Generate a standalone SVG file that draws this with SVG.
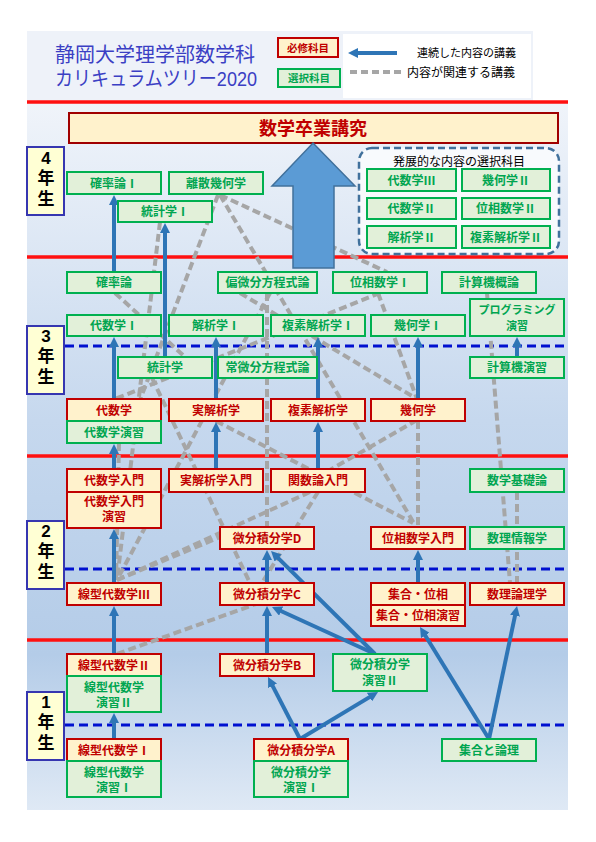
<svg xmlns="http://www.w3.org/2000/svg" width="596" height="842" viewBox="0 0 596 842">
<defs>
<linearGradient id="bg" x1="0" y1="0" x2="0" y2="1">
<stop offset="0" stop-color="#f0f4fa"/>
<stop offset="0.45" stop-color="#c6d8ee"/>
<stop offset="0.78" stop-color="#b4cce8"/>
<stop offset="1" stop-color="#dfe9f5"/>
</linearGradient>
<marker id="ah" viewBox="0 0 10 10" markerWidth="10" markerHeight="10" markerUnits="userSpaceOnUse" refX="2" refY="5" orient="auto">
<path d="M0,0 L10,5 L0,10 z" fill="#2e75b6"/>
</marker>
</defs>
<style>
text{font-family:'Noto Sans CJK JP','Noto Sans',sans-serif;font-weight:bold;font-size:12px;text-anchor:middle}
.ml{font-family:'Liberation Sans','Noto Sans CJK JP',sans-serif}
.ttl{font-family:'Liberation Sans','Noto Sans CJK JP',sans-serif;font-weight:normal;font-size:20px;text-anchor:start;fill:#3b3fc4}
.g rect{fill:#e2f0d9;stroke:#00b050;stroke-width:2}
.g text{fill:#00a550}
.r rect{fill:#fff2cc;stroke:#c00000;stroke-width:2}
.r text{fill:#c00000}
.yr rect{fill:#ffffd4;stroke:#3636b0;stroke-width:2}
.yr text{fill:#000;font-size:17px;font-family:'Liberation Sans','Noto Sans CJK JP',sans-serif}
.sep{stroke:#ff1010;stroke-width:3.5}
.half{stroke:#0010d0;stroke-width:3;stroke-dasharray:9 5}
.rel line{stroke:#a6a6a6;stroke-width:4;stroke-dasharray:8 4;fill:none}
.seq line{stroke:#2e75b6;stroke-width:4;marker-end:url(#ah)}
.small{font-size:11px}
</style>

<!-- background -->
<rect x="27" y="31" width="506" height="71" fill="#eef2f9"/>
<rect x="343" y="34" width="188" height="64" fill="#ffffff"/>
<rect x="27" y="102" width="541" height="708" fill="url(#bg)"/>

<!-- title -->
<g id="title">
<text x="55" y="62" class="ttl">静岡大学理学部数学科</text>
<text x="55" y="86" class="ttl" textLength="202" lengthAdjust="spacingAndGlyphs">カリキュラムツリー2020</text>
</g>

<!-- legend -->
<g id="legend">
<g class="r"><rect x="278" y="38" width="60" height="19"/><text x="308" y="51.5" style="font-size:10.5px">必修科目</text></g>
<g class="g"><rect x="278" y="69" width="62" height="18"/><text x="309" y="82" style="font-size:10.5px">選択科目</text></g>
<g class="seq"><line x1="397" y1="53" x2="356" y2="53"/></g>
<text x="417" y="57" style="font-weight:normal;font-size:11px;text-anchor:start;fill:#000">連続した内容の講義</text>
<g class="rel"><line x1="350" y1="72" x2="404" y2="72" style="stroke-dasharray:7 4"/></g>
<text x="407" y="76.5" style="font-weight:normal;font-size:12px;text-anchor:start;fill:#000">内容が関連する講義</text>
</g>

<!-- separators -->
<g id="separators">
<line class="sep" x1="27" y1="102" x2="568" y2="102"/>
<line class="sep" x1="27" y1="257" x2="568" y2="257"/>
<line class="sep" x1="27" y1="456" x2="568" y2="456"/>
<line class="sep" x1="27" y1="640" x2="568" y2="640"/>
<line class="half" x1="65" y1="346" x2="568" y2="346"/>
<line class="half" x1="65" y1="569" x2="568" y2="569"/>
<line class="half" x1="65" y1="725" x2="568" y2="725"/>
</g>

<!-- year labels -->
<g id="year4" class="yr"><rect x="27" y="147" width="37" height="68"/><text x="46" y="164"><tspan x="46">4</tspan><tspan x="46" dy="20">年</tspan><tspan x="46" dy="20.5">生</tspan></text></g>
<g id="year3" class="yr"><rect x="27" y="326" width="37" height="68"/><text x="46" y="342"><tspan x="46">3</tspan><tspan x="46" dy="20">年</tspan><tspan x="46" dy="21">生</tspan></text></g>
<g id="year2" class="yr"><rect x="27" y="521" width="37" height="68"/><text x="46" y="537"><tspan x="46">2</tspan><tspan x="46" dy="20">年</tspan><tspan x="46" dy="21">生</tspan></text></g>
<g id="year1" class="yr"><rect x="27" y="692" width="37" height="68"/><text x="46" y="708"><tspan x="46">1</tspan><tspan x="46" dy="20">年</tspan><tspan x="46" dy="21">生</tspan></text></g>

<!-- connectors -->
<g id="connectors">
<g class="rel">
<line x1="218" y1="195" x2="140" y2="400"/>
<line x1="220" y1="195" x2="415" y2="525"/>
<line x1="220" y1="195" x2="387" y2="272"/>
<line x1="160" y1="222" x2="117" y2="580"/>
<line x1="115" y1="293" x2="185" y2="357"/>
<line x1="267" y1="293" x2="267" y2="527"/>
<line x1="378" y1="293" x2="417" y2="399"/>
<line x1="380" y1="293" x2="115" y2="399"/>
<line x1="270" y1="293" x2="117" y2="580"/>
<line x1="240" y1="293" x2="417" y2="399"/>
<line x1="417" y1="420" x2="330" y2="470"/>
<line x1="418" y1="421" x2="418" y2="527"/>
<line x1="216" y1="421" x2="413" y2="523"/>
<line x1="152" y1="378" x2="250" y2="583"/>
<line x1="318" y1="492" x2="262" y2="583"/>
<line x1="117" y1="580" x2="310" y2="492"/>
<line x1="117" y1="580" x2="225" y2="535"/>
<line x1="119" y1="443" x2="116" y2="580"/>
<line x1="117" y1="654" x2="267" y2="600"/>
<line x1="487" y1="293" x2="510" y2="583"/>
<line x1="517" y1="492" x2="517" y2="583"/>
</g>
<g class="seq">
<line x1="114" y1="739" x2="114" y2="721"/>
<line x1="114" y1="654" x2="114" y2="614"/>
<line x1="114" y1="583" x2="114" y2="537"/>
<line x1="114" y1="469" x2="114" y2="452"/>
<line x1="114" y1="399" x2="114" y2="345"/>
<line x1="114" y1="272" x2="114" y2="203"/>
<line x1="165" y1="357" x2="165" y2="231"/>
<line x1="216" y1="399" x2="216" y2="345"/>
<line x1="216" y1="469" x2="216" y2="430"/>
<line x1="318" y1="399" x2="318" y2="345"/>
<line x1="318" y1="469" x2="318" y2="430"/>
<line x1="418" y1="399" x2="418" y2="345"/>
<line x1="517" y1="357" x2="517" y2="345"/>
<line x1="267" y1="583" x2="267" y2="558"/>
<line x1="267" y1="654" x2="267" y2="614"/>
<line x1="300" y1="739" x2="271.7" y2="684.1"/>
<line x1="300" y1="739" x2="371.2" y2="696.1"/>
<line x1="375" y1="654" x2="276.7" y2="556.6"/>
<line x1="375" y1="654" x2="279.3" y2="610.3"/>
<line x1="418" y1="583" x2="418" y2="558"/>
<line x1="489" y1="739" x2="424.2" y2="633.8"/>
<line x1="489" y1="739" x2="515.4" y2="613.8"/>
</g>
</g>

<!-- thesis -->
<g id="thesis" class="r"><rect x="69" y="113" width="489" height="30" style="stroke:#a00000"/><text x="313" y="135" style="font-size:18px">数学卒業講究</text></g>
<g id="arrow-to-thesis"><polygon points="313,143 355,186 334,186 334,268 293,268 293,186 272,186" fill="#5b9bd5" stroke="#41719c" stroke-width="1.5"/></g>

<!-- year 4 -->
<g id="n-kakuritsu1" class="g"><rect x="67" y="172" width="94" height="22"/><text x="114" y="187.5">確率論Ⅰ</text></g>
<g id="n-risan" class="g"><rect x="169" y="172" width="94" height="22"/><text x="216" y="187.5">離散幾何学</text></g>
<g id="n-toukei1" class="g"><rect x="118" y="201" width="94" height="21"/><text x="165" y="216">統計学Ⅰ</text></g>

<g id="advanced">
<rect x="359" y="148" width="200" height="106" rx="13" fill="#f8fafd" stroke="#41719c" stroke-width="2.5" stroke-dasharray="7 4"/>
<text x="459" y="166" style="font-weight:normal;fill:#000">発展的な内容の選択科目</text>
<g id="n-daisu3" class="g"><rect x="367" y="169" width="89" height="22"/><text x="411.5" y="184.5">代数学Ⅲ</text></g>
<g id="n-kika2" class="g"><rect x="462" y="169" width="88" height="22"/><text x="506" y="184.5">幾何学Ⅱ</text></g>
<g id="n-daisu2" class="g"><rect x="367" y="198" width="89" height="21"/><text x="411.5" y="213">代数学Ⅱ</text></g>
<g id="n-isou2" class="g"><rect x="462" y="198" width="88" height="21"/><text x="506" y="213">位相数学Ⅱ</text></g>
<g id="n-kaiseki2" class="g"><rect x="367" y="226" width="89" height="22"/><text x="411.5" y="241.5">解析学Ⅱ</text></g>
<g id="n-fukuso2" class="g"><rect x="462" y="226" width="88" height="22"/><text x="506" y="241.5">複素解析学Ⅱ</text></g>
</g>

<!-- year 3 -->
<g id="n-kakuritsu" class="g"><rect x="67" y="272" width="94" height="21"/><text x="114" y="287">確率論</text></g>
<g id="n-henbibun" class="g"><rect x="218" y="272" width="99" height="21"/><text x="267.5" y="287">偏微分方程式論</text></g>
<g id="n-isou1" class="g"><rect x="333" y="272" width="94" height="21"/><text x="380" y="287">位相数学Ⅰ</text></g>
<g id="n-keisanki" class="g"><rect x="442" y="272" width="94" height="21"/><text x="489" y="287">計算機概論</text></g>
<g id="n-daisu1" class="g"><rect x="67" y="315" width="94" height="21"/><text x="114" y="330">代数学Ⅰ</text></g>
<g id="n-kaiseki1" class="g"><rect x="169" y="315" width="94" height="21"/><text x="216" y="330">解析学Ⅰ</text></g>
<g id="n-fukuso1" class="g"><rect x="271" y="315" width="94" height="21"/><text x="318" y="330">複素解析学Ⅰ</text></g>
<g id="n-kika1" class="g"><rect x="371" y="315" width="94" height="21"/><text x="418" y="330">幾何学Ⅰ</text></g>
<g id="n-programming" class="g"><rect x="470" y="299" width="94" height="37"/><text x="517" y="314" class="small ml"><tspan x="517">プログラミング</tspan><tspan x="517" dy="16">演習</tspan></text></g>
<g id="n-toukei" class="g"><rect x="118" y="357" width="94" height="21"/><text x="165" y="372">統計学</text></g>
<g id="n-joubibun" class="g"><rect x="218" y="357" width="99" height="21"/><text x="267.5" y="372">常微分方程式論</text></g>
<g id="n-keisanki-ensyu" class="g"><rect x="470" y="357" width="94" height="21"/><text x="517" y="372">計算機演習</text></g>
<g id="n-daisu">
<g class="r"><rect x="67" y="399" width="94" height="22"/><text x="114" y="414.5">代数学</text></g>
<g class="g"><rect x="67" y="421" width="94" height="22"/><text x="114" y="436.5">代数学演習</text></g>
</g>
<g id="n-jitsukaiseki" class="r"><rect x="169" y="399" width="94" height="22"/><text x="216" y="414.5">実解析学</text></g>
<g id="n-fukuso" class="r"><rect x="271" y="399" width="94" height="22"/><text x="318" y="414.5">複素解析学</text></g>
<g id="n-kika" class="r"><rect x="371" y="399" width="94" height="22"/><text x="418" y="414.5">幾何学</text></g>

<!-- year 2 -->
<g id="n-daisu-nyumon" class="r">
<rect x="67" y="469" width="94" height="23"/><text x="114" y="485">代数学入門</text>
<rect x="67" y="492" width="94" height="36"/><text x="114" y="506" class="ml"><tspan x="114">代数学入門</tspan><tspan x="114" dy="15">演習</tspan></text>
</g>
<g id="n-jitsukaiseki-nyumon" class="r"><rect x="169" y="469" width="94" height="23"/><text x="216" y="485">実解析学入門</text></g>
<g id="n-kansu-nyumon" class="r"><rect x="271" y="469" width="94" height="23"/><text x="318" y="485">関数論入門</text></g>
<g id="n-kiso" class="g"><rect x="470" y="469" width="94" height="23"/><text x="517" y="485">数学基礎論</text></g>
<g id="n-bisekiD" class="r"><rect x="220" y="527" width="94" height="22"/><text x="267" y="542.5">微分積分学D</text></g>
<g id="n-isou-nyumon" class="r"><rect x="371" y="527" width="94" height="22"/><text x="418" y="542.5">位相数学入門</text></g>
<g id="n-suri-joho" class="g"><rect x="470" y="527" width="94" height="22"/><text x="517" y="542.5">数理情報学</text></g>
<g id="n-senkei3" class="r"><rect x="67" y="583" width="94" height="22"/><text x="114" y="598.5">線型代数学Ⅲ</text></g>
<g id="n-bisekiC" class="r"><rect x="220" y="583" width="94" height="22"/><text x="267" y="598.5">微分積分学C</text></g>
<g id="n-shugo-isou" class="r">
<rect x="371" y="583" width="94" height="22"/><text x="418" y="598.5">集合・位相</text>
<rect x="371" y="605" width="94" height="21"/><text x="418" y="620">集合・位相演習</text>
</g>
<g id="n-suri-ronri" class="r"><rect x="470" y="583" width="94" height="22"/><text x="517" y="598.5">数理論理学</text></g>

<!-- year 1 -->
<g id="n-senkei2">
<g class="r"><rect x="67" y="654" width="94" height="22"/><text x="114" y="669.5">線型代数学Ⅱ</text></g>
<g class="g"><rect x="67" y="676" width="94" height="36"/><text x="114" y="691.5" class="ml"><tspan x="114">線型代数学</tspan><tspan x="114" dy="15">演習Ⅱ</tspan></text></g>
</g>
<g id="n-bisekiB" class="r"><rect x="220" y="654" width="94" height="22"/><text x="267" y="669.5">微分積分学B</text></g>
<g id="n-biseki-ensyu2" class="g"><rect x="333" y="654" width="94" height="37"/><text x="380" y="669" class="ml"><tspan x="380">微分積分学</tspan><tspan x="380" dy="15.5">演習Ⅱ</tspan></text></g>
<g id="n-senkei1">
<g class="r"><rect x="67" y="739" width="94" height="22"/><text x="114" y="754.5">線型代数学Ⅰ</text></g>
<g class="g"><rect x="67" y="761" width="94" height="36"/><text x="114" y="776.5" class="ml"><tspan x="114">線型代数学</tspan><tspan x="114" dy="15">演習Ⅰ</tspan></text></g>
</g>
<g id="n-bisekiA">
<g class="r"><rect x="254" y="739" width="94" height="22"/><text x="301" y="754.5">微分積分学A</text></g>
<g class="g"><rect x="254" y="761" width="94" height="36"/><text x="301" y="776.5" class="ml"><tspan x="301">微分積分学</tspan><tspan x="301" dy="15">演習Ⅰ</tspan></text></g>
</g>
<g id="n-shugo-ronri" class="g"><rect x="442" y="739" width="94" height="22"/><text x="489" y="754.5">集合と論理</text></g>
</svg>
